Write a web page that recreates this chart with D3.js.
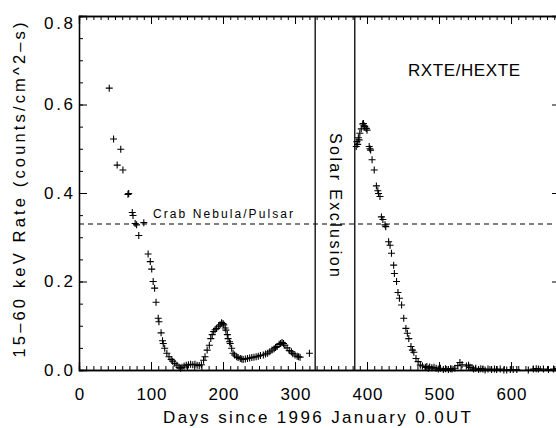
<!DOCTYPE html>
<html>
<head>
<meta charset="utf-8">
<script src="https://cdn.jsdelivr.net/npm/d3@7"></script>
<style>
  body { margin: 0; background: #fff; }
  svg { display: block; font-family: "Liberation Sans", Arial, sans-serif; }
  .axis path, .axis line { stroke: #000; }
  .axis text { font-size: 17px; fill: #000; font-family: "Liberation Sans", Arial, sans-serif; }
</style>
</head>
<body>
<div id="chart"></div>
<script>
var svgWidth = 556;
var svgHeight = 428;

// days since 1996 Jan 0.0 UT and 15-60 keV rate
var outburst1Days = [42, 48, 53, 58, 61, 68, 69, 74, 75, 78, 80, 83, 90, 96, 99, 101, 103, 105, 107, 110,
  111, 114, 116, 117, 119, 122, 125, 128, 130, 133, 136, 139, 141, 143, 146, 149, 152, 155, 158, 161,
  164, 167, 170, 173, 175, 178, 181, 183, 185, 187, 189, 191, 194, 196, 198, 200, 201, 203, 204, 206,
  207, 209, 210, 212, 214, 216, 219, 221, 224, 226, 228, 231, 234, 237, 240, 243, 246, 249, 252, 256,
  259, 262, 265, 268, 271, 273, 275, 278, 280, 282, 284, 286, 289, 292, 295, 297, 300, 303, 305, 307, 320];
var outburst1Rates = [0.637, 0.522, 0.463, 0.499, 0.452, 0.397, 0.399, 0.356, 0.349, 0.331, 0.328, 0.304, 0.333, 0.262, 0.245, 0.228, 0.200, 0.185, 0.153, 0.117,
  0.109, 0.084, 0.066, 0.060, 0.049, 0.038, 0.030, 0.024, 0.020, 0.015, 0.011, 0.006, 0.004, 0.006, 0.009, 0.011, 0.012, 0.013, 0.012, 0.013,
  0.011, 0.010, 0.012, 0.022, 0.030, 0.045, 0.056, 0.071, 0.080, 0.087, 0.091, 0.094, 0.099, 0.102, 0.107, 0.105, 0.102, 0.095, 0.090, 0.080,
  0.071, 0.064, 0.060, 0.049, 0.038, 0.034, 0.030, 0.028, 0.026, 0.025, 0.024, 0.025, 0.026, 0.027, 0.028, 0.029, 0.030, 0.031, 0.033, 0.034,
  0.036, 0.038, 0.041, 0.045, 0.048, 0.051, 0.053, 0.058, 0.060, 0.062, 0.060, 0.056, 0.050, 0.044, 0.041, 0.037, 0.034, 0.031, 0.030, 0.029, 0.038];

var outburst2Days = [385, 386, 387, 388, 389, 390, 392, 394, 395, 396, 397, 399, 400, 403, 404, 405, 407, 410, 413, 415,
  416, 418, 420, 422, 425, 426, 430, 432, 434, 437, 438, 441, 443, 445, 448, 451, 454, 456, 458, 461,
  463, 465, 468, 471, 474, 477, 481, 483, 485, 487, 490, 493, 496, 499, 502, 506, 509, 513, 516, 518,
  522, 526, 529, 532, 538, 541, 543, 546, 548, 551, 555, 558, 561, 564, 568, 573, 577, 580, 585, 590,
  594, 599, 603, 608, 624, 631, 635, 638, 645, 652, 659, 664];
var outburst2Rates = [0.505, 0.516, 0.510, 0.525, 0.520, 0.535, 0.545, 0.556, 0.557, 0.552, 0.550, 0.546, 0.542, 0.505, 0.500, 0.497, 0.475, 0.452, 0.416, 0.405,
  0.399, 0.392, 0.346, 0.340, 0.328, 0.324, 0.290, 0.282, 0.264, 0.237, 0.218, 0.200, 0.175, 0.162, 0.147, 0.117, 0.094, 0.083, 0.071, 0.053,
  0.045, 0.040, 0.026, 0.019, 0.011, 0.009, 0.006, 0.008, 0.004, 0.007, 0.005, 0.006, 0.004, 0.002, 0.004, 0.001, 0.003, 0.001, 0.003, 0.002,
  0.004, 0.010, 0.017, 0.012, 0.009, 0.011, 0.006, 0.005, 0.002, 0.004, 0.001, 0.003, 0.002, 0.000, 0.002, 0.001, 0.002, 0.001, 0.002, 0.000,
  0.000, 0.001, 0.001, 0.001, 0.000, 0.002, 0.003, 0.002, 0.002, 0.001, 0.002, 0.003];

var crabRate = 0.330;
var solarExclusion = [328, 383];
var xTicks = [0, 100, 200, 300, 400, 500, 600];
var yTicks = [0.0, 0.2, 0.4, 0.6, 0.8];

var allData = outburst1Days.map((d, i) => ({day: d, rate: outburst1Rates[i]}))
  .concat(outburst2Days.map((d, i) => ({day: d, rate: outburst2Rates[i]})));

var plot = {left: 79, right: 560, top: 16, bottom: 370};

var svg = d3.select("#chart")
  .append("svg")
  .attr("width", svgWidth)
  .attr("height", svgHeight);

var xScale = d3.scaleLinear().domain([0, 668]).range([plot.left, plot.right]);
var yScale = d3.scaleLinear().domain([0, 0.8]).range([plot.bottom, plot.top]);

// minor ticks every 10 days / 0.05, major inward ticks
var xMinor = d3.range(0, 669, 10);
var yMinor = d3.range(0, 0.801, 0.05);

svg.append("g").attr("class", "axis")
  .attr("transform", `translate(0, ${plot.bottom})`)
  .call(d3.axisBottom(xScale).tickValues(xMinor).tickSize(-4).tickFormat(""));
var xAxis = svg.append("g").attr("class", "axis")
  .attr("transform", `translate(0, ${plot.bottom})`)
  .call(d3.axisBottom(xScale).tickValues(xTicks).tickSize(-8).tickPadding(18).tickFormat(d3.format("d")));
xAxis.selectAll("text").attr("textLength", d => String(d).length * 10);

svg.append("g").attr("class", "axis")
  .attr("transform", `translate(0, ${plot.top})`)
  .call(d3.axisTop(xScale).tickValues(xMinor).tickSize(-4).tickFormat(""));
svg.append("g").attr("class", "axis")
  .attr("transform", `translate(0, ${plot.top})`)
  .call(d3.axisTop(xScale).tickValues(xTicks).tickSize(-8).tickFormat(""));

svg.append("g").attr("class", "axis")
  .attr("transform", `translate(${plot.left}, 0)`)
  .call(d3.axisLeft(yScale).tickValues(yMinor).tickSize(-4).tickFormat(""));
var yAxis = svg.append("g").attr("class", "axis")
  .attr("transform", `translate(${plot.left}, 0)`)
  .call(d3.axisLeft(yScale).tickValues(yTicks).tickSize(-8).tickPadding(6).tickFormat(d3.format(".1f")));
yAxis.selectAll("text").attr("textLength", 29);
// top label sits a little lower, as in the original
yAxis.selectAll("text").filter(d => d === 0.8).attr("dy", "0.75em");

svg.append("g").attr("class", "axis")
  .attr("transform", `translate(${plot.right}, 0)`)
  .call(d3.axisRight(yScale).tickValues(yMinor).tickSize(-4).tickFormat(""));
svg.append("g").attr("class", "axis")
  .attr("transform", `translate(${plot.right}, 0)`)
  .call(d3.axisRight(yScale).tickValues(yTicks).tickSize(-8).tickFormat(""));

svg.selectAll(".axis .domain").attr("stroke-width", 1.3);

// Crab level
svg.append("line")
  .attr("x1", plot.left).attr("x2", plot.right)
  .attr("y1", yScale(crabRate)).attr("y2", yScale(crabRate))
  .attr("stroke", "#000").attr("stroke-width", 1.1)
  .attr("stroke-dasharray", "5,4");

svg.append("text")
  .attr("x", 153).attr("y", yScale(crabRate) - 6)
  .attr("font-size", 12).attr("textLength", 140)
  .text("Crab Nebula/Pulsar");

// solar exclusion window
svg.selectAll(".solar")
  .data(solarExclusion)
  .enter()
  .append("line")
  .attr("x1", d => xScale(d)).attr("x2", d => xScale(d))
  .attr("y1", plot.top).attr("y2", plot.bottom)
  .attr("stroke", "#000").attr("stroke-width", 1.3);

svg.append("text")
  .attr("transform", `translate(330, 205) rotate(90)`)
  .attr("text-anchor", "middle")
  .attr("font-size", 16).attr("textLength", 144)
  .text("Solar Exclusion");

svg.append("text")
  .attr("x", 408).attr("y", 76)
  .attr("font-size", 17).attr("textLength", 112)
  .text("RXTE/HEXTE");

// data crosses
svg.selectAll(".pt")
  .data(allData)
  .enter()
  .append("path")
  .attr("class", "pt")
  .attr("transform", d => `translate(${xScale(d.day)}, ${yScale(d.rate)})`)
  .attr("d", "M-3.5,0H3.5M0,-3.5V3.5")
  .attr("stroke", "#000").attr("stroke-width", 1.1)
  .attr("fill", "none");

// axis titles
svg.append("text")
  .attr("x", 317).attr("y", 423)
  .attr("text-anchor", "middle")
  .attr("font-size", 17).attr("textLength", 308)
  .text("Days since 1996 January 0.0UT");

svg.append("text")
  .attr("transform", `translate(25, 190) rotate(-90)`)
  .attr("text-anchor", "middle")
  .attr("font-size", 16.5).attr("textLength", 335)
  .text("15\u201360 keV Rate (counts/cm^2\u2013s)");
</script>
</body>
</html>
